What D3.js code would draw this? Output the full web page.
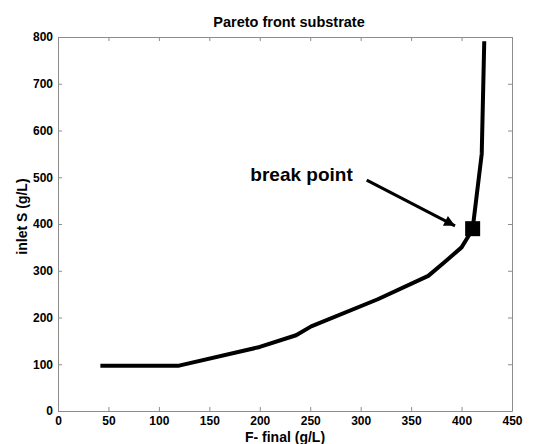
<!DOCTYPE html>
<html>
<head>
<meta charset="utf-8">
<script src="https://cdn.jsdelivr.net/npm/d3@7"></script>
<style>
  body { margin: 0; background: #fff; }
  svg text { font-family: "Liberation Sans", Arial, sans-serif; font-weight: bold; }
</style>
</head>
<body>
<div id="chart"></div>
<script>
// chart size and plot box
const width = 544;
const height = 444;
const margin = {left: 58, right: 32, top: 37, bottom: 33};

// pareto front values
const fFinal = [42, 120, 200, 236, 251, 317, 367, 383, 400, 406, 411, 420, 422.5];
const inletS = [97, 97, 137, 162, 181, 239, 289, 318, 350, 371, 390, 550, 791];

// break point marker and the arrow pointing at it
const breakPoint = [411, 390];
const arrowFrom = [306, 494];
const arrowTo = [393.5, 396];
const breakLabel = "break point";

const xTicks = [0, 50, 100, 150, 200, 250, 300, 350, 400, 450];
const yTicks = [0, 100, 200, 300, 400, 500, 600, 700, 800];

const svg = d3.select("#chart")
  .append("svg")
  .attr("width", width)
  .attr("height", height);

// scales
const x = d3.scaleLinear()
  .domain([0, 450])
  .range([margin.left, width - margin.right]);

const y = d3.scaleLinear()
  .domain([0, 800])
  .range([height - margin.bottom, margin.top]);

const tickColor = "#8c8c8c";

// axes, ticks point inward on all four sides
const styleAxis = g => {
  g.select(".domain").attr("stroke", tickColor);
  g.selectAll(".tick line").attr("stroke", tickColor);
  g.selectAll(".tick text").attr("fill", "#000");
};

svg.append("g")
  .attr("transform", `translate(0,${height - margin.bottom})`)
  .call(d3.axisBottom(x).tickValues(xTicks).tickSizeInner(-4).tickSizeOuter(0).tickPadding(5))
  .attr("font-size", "12px")
  .call(styleAxis);

svg.append("g")
  .attr("transform", `translate(0,${margin.top})`)
  .call(d3.axisTop(x).tickValues(xTicks).tickSizeInner(-4).tickSizeOuter(0).tickFormat(""))
  .call(styleAxis);

svg.append("g")
  .attr("transform", `translate(${margin.left},0)`)
  .call(d3.axisLeft(y).tickValues(yTicks).tickSizeInner(-4).tickSizeOuter(0).tickPadding(5))
  .attr("font-size", "12px")
  .call(styleAxis);

svg.append("g")
  .attr("transform", `translate(${width - margin.right},0)`)
  .call(d3.axisRight(y).tickValues(yTicks).tickSizeInner(-4).tickSizeOuter(0).tickFormat(""))
  .call(styleAxis);

// the front itself
const points = fFinal.map((v, i) => [v, inletS[i]]);

svg.append("path")
  .datum(points)
  .attr("fill", "none")
  .attr("stroke", "#000")
  .attr("stroke-width", 4)
  .attr("stroke-linejoin", "round")
  .attr("d", d3.line().x(d => x(d[0])).y(d => y(d[1])));

// break point square
const sq = 15;
svg.append("rect")
  .attr("x", x(breakPoint[0]) - sq / 2)
  .attr("y", y(breakPoint[1]) - sq / 2)
  .attr("width", sq)
  .attr("height", sq)
  .attr("fill", "#000");

// arrow with a filled head
svg.append("defs").append("marker")
  .attr("id", "head")
  .attr("viewBox", "0 0 10 10")
  .attr("refX", 10)
  .attr("refY", 5)
  .attr("markerWidth", 5)
  .attr("markerHeight", 3.6)
  .attr("markerUnits", "strokeWidth")
  .attr("orient", "auto")
  .append("path")
  .attr("d", "M0,0L10,5L0,10z")
  .attr("fill", "#000");

svg.append("line")
  .attr("x1", x(arrowFrom[0]))
  .attr("y1", y(arrowFrom[1]))
  .attr("x2", x(arrowTo[0]))
  .attr("y2", y(arrowTo[1]))
  .attr("stroke", "#000")
  .attr("stroke-width", 3)
  .attr("marker-end", "url(#head)");

svg.append("text")
  .attr("x", x(arrowFrom[0]) - 14)
  .attr("y", y(arrowFrom[1]) + 1)
  .attr("text-anchor", "end")
  .attr("font-size", "19px")
  .text(breakLabel);

// titles
svg.append("text")
  .attr("x", x(229))
  .attr("y", 27)
  .attr("text-anchor", "middle")
  .attr("font-size", "14.5px")
  .text("Pareto front substrate");

svg.append("text")
  .attr("x", x(225))
  .attr("y", 441.5)
  .attr("text-anchor", "middle")
  .attr("font-size", "14px")
  .text("F- final (g/L)");

svg.append("text")
  .attr("transform", `translate(27,${y(416)}) rotate(-90)`)
  .attr("text-anchor", "middle")
  .attr("font-size", "14px")
  .text("inlet S (g/L)");
</script>
</body>
</html>
